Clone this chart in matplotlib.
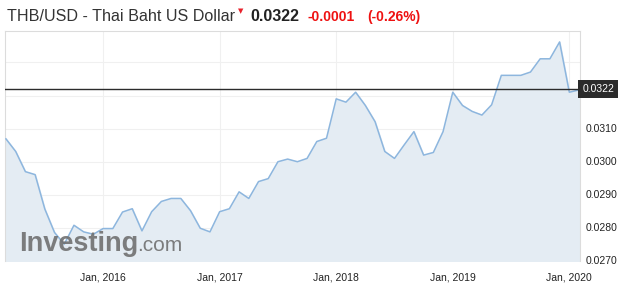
import pandas as pd
import matplotlib
matplotlib.use('Agg')
import matplotlib.pyplot as plt
from matplotlib.ticker import FixedLocator, NullFormatter

plt.rcParams['font.family'] = ['Liberation Sans', 'DejaVu Sans']

# --- data (monthly closes) ---
start_month = '2015-03-01'
thb_usd = [
    0.03069, 0.03031, 0.02970, 0.02961, 0.02857, 0.02786, 0.02751, 0.02808,
    0.02788, 0.02781, 0.02798, 0.02798, 0.02848, 0.02858, 0.02791, 0.02849,
    0.02880, 0.02889, 0.02889, 0.02852, 0.02799, 0.02788, 0.02849, 0.02858,
    0.02909, 0.02889, 0.02940, 0.02949, 0.03000, 0.03008, 0.03000, 0.03010,
    0.03061, 0.03071, 0.03190, 0.03180, 0.03210, 0.03170, 0.03121, 0.03031,
    0.03010, 0.03051, 0.03091, 0.03020, 0.03028, 0.03091, 0.03210, 0.03170,
    0.03152, 0.03141, 0.03172, 0.03261, 0.03261, 0.03261, 0.03271, 0.03311,
    0.03311, 0.03362, 0.03210, 0.03217,
]
last_price = 0.0322
change = '-0.0001'
change_pct = '(-0.26%)'
y_ticks = [0.0270, 0.0280, 0.0290, 0.0300, 0.0310, 0.0320, 0.0330]

months = pd.date_range(start_month, periods=len(thb_usd), freq='MS')
x = list(range(len(months)))
jan_idx = [i for i, m in enumerate(months) if m.month == 1]
jan_labels = [f'Jan, {months[i].year}' for i in jan_idx]

W, H = 620, 289
fig = plt.figure(figsize=(W / 100, H / 100), dpi=100)


def fx(px):
    return px / W


def fy(py):
    return 1 - py / H


ax = fig.add_axes([fx(5), fy(261), fx(580) - fx(5), fy(31) - fy(261)])

ax.fill_between(x, thb_usd, 0.0270, color='#e4ecf3', zorder=1)
ax.plot(x, thb_usd, color='#8db6de', lw=1.1, zorder=3)
ax.axhline(last_price, color='#2b2b2b', lw=1, zorder=4)

ax.set_xlim(-0.1, 59.1)
ax.set_ylim(0.0270, 0.03395)

ax.yaxis.set_major_locator(FixedLocator(y_ticks))
ax.xaxis.set_major_locator(FixedLocator(jan_idx))
ax.grid(True, color='#f0f0f0', lw=0.8, zorder=0)
ax.set_axisbelow(True)
ax.tick_params(length=0)
ax.xaxis.set_major_formatter(NullFormatter())
ax.yaxis.set_major_formatter(NullFormatter())

for s in ['top', 'left', 'right']:
    ax.spines[s].set_color('#dcdcdc')
    ax.spines[s].set_linewidth(0.8)
ax.spines['bottom'].set_visible(False)

# tick labels on the right, skip the one under the price box
for v in y_ticks:
    if abs(v - 0.0320) < 1e-6 or v > 0.0325:
        continue
    ax.text(1.009, v, f'{v:.4f}', transform=ax.get_yaxis_transform(),
            ha='left', va='center', fontsize=7.5, color='#222222')

for i, lab in zip(jan_idx, jan_labels):
    ax.text(i, -0.05, lab, transform=ax.get_xaxis_transform(),
            ha='center', va='top', fontsize=7.5, color='#222222')

# price box
ax.text(1.004, last_price, f'{last_price:.4f}', transform=ax.get_yaxis_transform(),
        ha='left', va='center', fontsize=7.5, color='white', zorder=6,
        bbox=dict(boxstyle='square,pad=0.4', fc='#2b2b2b', ec='none'),
        clip_on=False)

# watermark
fig.text(fx(19), fy(251), 'Investing', fontsize=19.5, fontweight='bold',
         color='#707070', alpha=0.9, va='baseline', ha='left')
fig.text(fx(137), fy(251), '.com', fontsize=15, color='#707070',
         alpha=0.9, va='baseline', ha='left')

# header
fig.text(fx(7), fy(21), 'THB/USD - Thai Baht US Dollar', fontsize=11.6,
         color='#333333', va='baseline', ha='left')
fig.text(fx(241), fy(13), '\u25bc', fontsize=5, color='#e8212b',
         family='DejaVu Sans', va='baseline', ha='center')
fig.text(fx(250), fy(21), f'{last_price:.4f}', fontsize=11.5, fontweight='bold',
         color='#222222', va='baseline', ha='left')
fig.text(fx(308), fy(21), change, fontsize=10, fontweight='bold',
         color='#ee1111', va='baseline', ha='left')
fig.text(fx(367), fy(21), change_pct, fontsize=10, fontweight='bold',
         color='#ee1111', va='baseline', ha='left')

fig.savefig('out.png', dpi=100)
